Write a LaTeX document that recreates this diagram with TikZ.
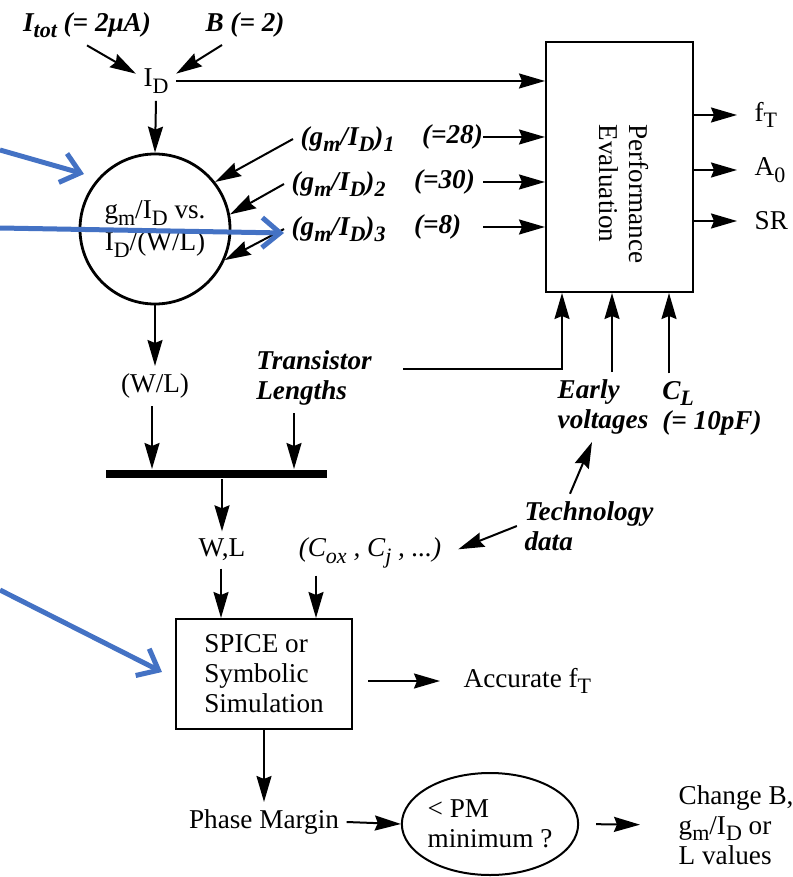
\documentclass[tikz,border=0pt]{standalone}
\usepackage{fontspec}
\setmainfont{Liberation Serif}
\usetikzlibrary{positioning, arrows.meta, shapes.geometric}
\definecolor{annblue}{RGB}{68,114,196}
\newcommand\subs[1]{\raisebox{-3.2pt}{\fontsize{11}{11}\selectfont #1}}

\begin{document}
\begin{tikzpicture}[x=0.5pt, y=-0.5pt, ->, >={Stealth[length=13pt, width=7.5pt, inset=1.5pt]}, line width=1pt,
    every node/.style={font=\fontsize{13.6}{15}\selectfont},
    lbl/.style={font=\fontsize{13.6}{15}\selectfont\bfseries\itshape, align=left},
    box/.style={draw, rectangle, line width=1pt},
    note/.style={annblue, line width=2.5pt, -{Straight Barb[length=9pt, width=15pt]}}]
  \useasboundingbox (0,0) rectangle (792,877);

  % inputs and the gm/ID chart
  \node (itot) [lbl] at (87,25) {I\subs{tot} (= 2μA)};
  \node (bval) [lbl] at (245,25) {B (= 2)};
  \node (id) at (156,81) {I\subs{D}};
  \node (gmid) [circle, draw, line width=1.4pt, minimum size=75pt, inner sep=0, align=center,
    font=\fontsize{13.6}{16}\selectfont] at (155,229)
    {g\subs{m}/I\subs{D} vs.\\I\subs{D}/(W/L)};
  \draw (itot.south) -- (id.160);
  \draw (bval.221) -- (id.20);
  \draw (id.south) -- (gmid.north);

  % performance evaluation
  \node (perf) [box, minimum width=73.5pt, minimum height=125pt] at (619.5,167) {};
  \node (perftxt) [rotate=-90, align=left] at (624,194) {Performance\\Evaluation};
  \draw (id.east) -- (id.east -| perf.west);
  \node (ft) [anchor=west] at (747,115) {f\subs{T}};
  \node (a0) [anchor=west] at (747,170) {A\subs{0}};
  \node (sr) [anchor=west] at (747,221) {SR};
  \draw[shorten >=5pt] (perf.east |- ft.west) -- (ft.west);
  \draw[shorten >=5pt] (perf.east |- a0.west) -- (a0.west);
  \draw[shorten >=5pt] (perf.east |- sr.west) -- (sr.west);

  \node (gm1) [lbl, anchor=west] at (293,139) {(g\subs{m}/I\subs{D})\subs{1}};
  \node (gm2) [lbl, anchor=west] at (284,184) {(g\subs{m}/I\subs{D})\subs{2}};
  \node (gm3) [lbl, anchor=west] at (284,229) {(g\subs{m}/I\subs{D})\subs{3}};
  \node (v1) [lbl, anchor=east, text width=30pt, inner sep=0] at (483,137) {(=28)};
  \node (v2) [lbl, anchor=east, text width=34pt, inner sep=0] at (483,182) {(=30)};
  \node (v3) [lbl, anchor=east, text width=34pt, inner sep=0] at (483,227) {(=8)};
  \draw (gm1.west) -- (gmid.38);
  \draw (gm2.west) -- (gmid.11);
  \draw (gm3.west) -- (gmid.-24);
  \draw (v1.east) -- (v1.east -| perf.west);
  \draw (v2.east) -- (v2.east -| perf.west);
  \draw (v3.east) -- (v3.east -| perf.west);

  % sizing
  \node (wl) at (155,386) {(W/L)};
  \node (trl) [lbl] at (314,378) {Transistor\\Lengths};
  \node (bar) [fill, inner sep=0, minimum width=110.5pt, minimum height=4pt] at (216.5,474) {};
  \path (bar.north west) ++(47,0) coordinate (b1) ++(142,0) coordinate (b2);
  \draw (gmid.south) -- (wl.north);
  \draw (wl.south -| b1) -- (b1);
  \draw (trl.south -| b2) -- (b2);

  \node (ev) [lbl] at (603,407) {Early\\voltages};
  \node (cl) [lbl] at (712,408) {C\subs{L}\\(= 10pF)};
  \node (tech) [lbl] at (589,526) {Technology\\data};
  \path (perf.south west) ++(17,0) coordinate (in1) ++(50,0) coordinate (in2) ++(57,0) coordinate (in3);
  \draw ([xshift=12pt, yshift=4.5pt]trl.east) -| (in1);
  \draw (ev.north -| in2) -- (in2);
  \draw (cl.north -| in3) -- (in3);
  \draw ([xshift=-9.5pt]tech.north) -- ([xshift=-5.5pt]ev.south);

  % simulation
  \node (wlc) at (222,550) {W,L};
  \node (cox) [font=\fontsize{13.6}{15}\selectfont\itshape] at (370,553) {(C\subs{ox} , C\subs{j} , ...)};
  \draw[shorten >=5pt] (tech.west) -- (cox.east);
  \draw (bar.south -| wlc) -- (wlc.north);
  \node (spice) [box, minimum width=88pt, minimum height=55pt, align=left] at (264,674) {SPICE or\\Symbolic\\Simulation};
  \path (spice.north west) ++(46,0) coordinate (sp1) ++(95,0) coordinate (sp2);
  \draw (wlc.south -| sp1) -- (sp1);
  \draw (cox.south -| sp2) -- (sp2);
  \node (acc) [anchor=west] at (456,681) {Accurate f\subs{T}};
  \draw[shorten <=7.5pt, shorten >=8pt] (spice.east |- acc.west) -- (acc.west);

  % phase margin check
  \node (pm) at (264,822) {Phase Margin};
  \node (pmq) [ellipse, draw, minimum width=85pt, minimum height=51pt, inner sep=0, align=left] at (490,824) {< PM\\minimum ?};
  \node (chg) [anchor=west, align=left] at (671,825) {Change B,\\g\subs{m}/I\subs{D} or\\L values};
  \draw (spice.south) -- (pm.north);
  \draw (pm.east) -- (pmq.west);
  \draw[shorten <=8.5pt, shorten >=15.5pt] (pmq.east) -- (chg.west);

  % blue pointers
  \coordinate (e1) at (0,150);  \coordinate (t1) at (84,174);
  \coordinate (e2) at (0,228);  \coordinate (t2) at (284,233);
  \coordinate (e3) at (0,590);  \coordinate (t3) at (162,672);
  \draw[note] (e1) -- (t1);
  \draw[note] (e2) -- (t2);
  \draw[note] (e3) -- (t3);
\end{tikzpicture}
\end{document}
